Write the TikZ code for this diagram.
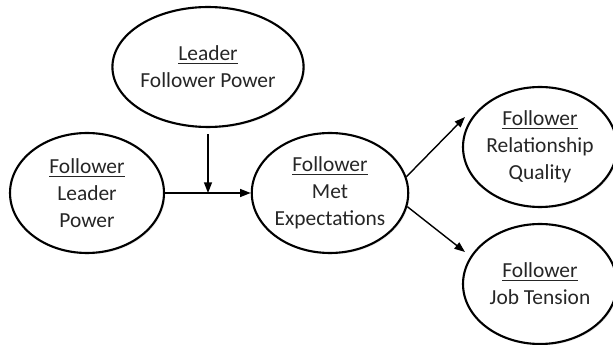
\documentclass[tikz,border=0pt]{standalone}
\usepackage{fontspec}
\setmainfont{Carlito}
\usetikzlibrary{shapes.geometric,arrows.meta,shadows}
\begin{document}
\begin{tikzpicture}[>={Triangle[length=6pt,width=4.5pt]}, x=0.02cm, y=0.02cm,
    bubble/.style={ellipse, draw, fill=white, line width=1.2pt, minimum width=3.08cm,
        minimum height=2.4cm, inner sep=0pt, align=center, text=black!85,
        font=\fontsize{12.2}{15.4}\selectfont,
        drop shadow={opacity=0.15, shadow xshift=0.8pt, shadow yshift=-0.8pt}},
    link/.style={->, line width=0.8pt}]
    \useasboundingbox (0,0) rectangle (613,345);
    \node[bubble] (leader) at (208,278) {\underline{Leader}\\Follower Power};
    \node[bubble] (lpower) at (87,152) {\underline{Follower}\\Leader\\Power};
    \node[bubble] (metexp) at (330,152) {\underline{Follower}\\Met\\Expectations};
    \node[bubble] (relq) at (540,198) {\underline{Follower}\\Relationship\\Quality};
    \node[bubble] (jobt) at (540,61) {\underline{Follower}\\Job Tension};
    \coordinate (mod) at (208,152);
    \coordinate (relin) at (465,228);
    \coordinate (jobin) at (465,93);
    \draw[link] (lpower) -- (metexp);
    \draw[link, shorten <=0.12cm] (leader.south) -- (mod);
    \draw[link] (metexp.12) -- (relin);
    \draw[link] (metexp.-10) -- (jobin);
\end{tikzpicture}
\end{document}
